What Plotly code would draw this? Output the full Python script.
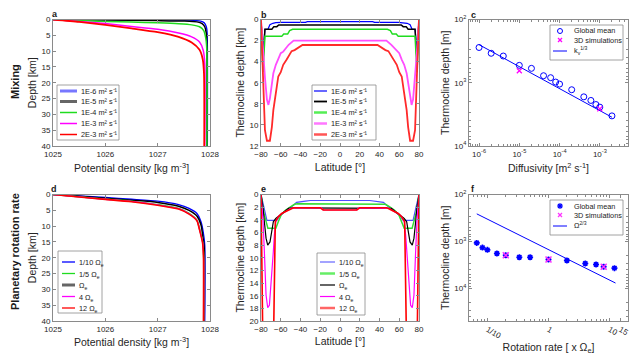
import math
import plotly.graph_objects as go

W, H = 644, 357
OFF = 8  # the page body adds an 8 px margin; positions below are in window pixels
FONT = "Liberation Sans, Arial, sans-serif"
FRAME = "#8a8a8a"

# ---------------- data ----------------
# (a) potential density profiles, mixing runs
a_rho_1e6 = [1025, 1026, 1027, 1027.6, 1027.82, 1027.89, 1027.93, 1027.945, 1027.95]
a_dep_1e6 = [0, 0.05, 0.12, 0.2, 0.5, 1.05, 2.3, 4.0, 40]
a_rho_1e5 = [1025, 1026, 1027, 1027.5, 1027.75, 1027.85, 1027.9, 1027.93, 1027.94, 1027.94]
a_dep_1e5 = [0, 0.15, 0.35, 0.5, 0.75, 1.3, 2.3, 4.4, 8, 40]
a_rho_1e4 = [1025, 1025.5, 1026, 1026.5, 1027, 1027.4, 1027.65, 1027.8, 1027.88, 1027.92, 1027.94, 1027.94]
a_dep_1e4 = [0, 0.35, 0.6, 0.8, 1.05, 1.35, 1.7, 2.3, 3.5, 6, 10, 40]
a_rho_1e3 = [1025, 1025.5, 1026, 1026.5, 1027, 1027.4, 1027.65, 1027.8, 1027.87, 1027.9, 1027.9]
a_dep_1e3 = [0, 0.6, 1.3, 2.2, 3.1, 4.3, 5.5, 7.1, 9.7, 14, 40]
a_rho_2e3 = [1025, 1025.5, 1026, 1026.5, 1027, 1027.4, 1027.65, 1027.8, 1027.86, 1027.885, 1027.89]
a_dep_2e3 = [0, 0.75, 1.7, 2.8, 4.0, 5.5, 7.3, 9.6, 12.5, 17, 40]

# (b) thermocline depth vs latitude, mixing runs
b_lat_1e6 = [-80, -78, -76, -73, -71, -68, -65, -59, -35, -33, 33, 35, 59, 65, 68, 71, 73, 76, 78, 80]
b_dep_1e6 = [0, 3.0, 0.93, 0.93, 0.5, 0.36, 0.3, 0.27, 0.27, 0.2, 0.2, 0.27, 0.27, 0.3, 0.36, 0.5, 0.93, 0.93, 3.0, 0]
b_lat_1e5 = [-80, -78, -76, -69, -67, -64, -62, 62, 64, 67, 69, 76, 78, 80]
b_dep_1e5 = [0, 4.0, 0.93, 0.93, 0.68, 0.68, 0.52, 0.52, 0.68, 0.68, 0.93, 0.93, 4.0, 0]
b_lat_1e4 = [-80, -78, -76, -59, -57, -53, -51, -48, 48, 51, 53, 57, 59, 76, 78, 80]
b_dep_1e4 = [0, 5.0, 1.6, 1.6, 1.38, 1.38, 1.06, 0.93, 0.93, 1.06, 1.38, 1.38, 1.6, 1.6, 5.0, 0]
b_lat_1e3 = [-80, -78, -76, -74, -72.5, -71, -69, -67.5, -65, -62.5, -60, -57.5, -54, -52, -47,
             47, 52, 54, 57.5, 60, 62.5, 65, 67.5, 69, 71, 72.5, 74, 76, 78, 80]
b_dep_1e3 = [0, 3.0, 5.5, 7.6, 8.1, 7.5, 6.1, 5.1, 4.3, 3.8, 3.2, 3.05, 2.6, 2.4, 2.0,
             2.0, 2.4, 2.6, 3.05, 3.2, 3.8, 4.3, 5.1, 6.1, 7.5, 8.1, 7.6, 5.5, 3.0, 0]
b_lat_2e3 = [-80, -78, -76, -74, -71, -69, -67.5, -65, -62.5, -60, -57.5, -54, -52, -49, -46, -42, -38,
             38, 42, 46, 49, 52, 54, 57.5, 60, 62.5, 65, 67.5, 69, 71, 74, 76, 78, 80]
b_dep_2e3 = [0, 5.0, 10.5, 11.5, 11.5, 10.2, 8.6, 7.0, 5.4, 5.0, 4.3, 3.8, 3.5, 3.0, 2.9, 2.7, 2.42,
             2.42, 2.7, 2.9, 3.0, 3.5, 3.8, 4.3, 5.0, 5.4, 7.0, 8.6, 10.2, 11.5, 11.5, 10.5, 5.0, 0]

# (c) global-mean thermocline depth vs diffusivity
c_kv = [1e-6, 2e-6, 4e-6, 1e-5, 2e-5, 4e-5, 6e-5, 8e-5, 1e-4, 2e-4, 4e-4, 6e-4, 8e-4, 1e-3, 2e-3]
c_depth = [277, 342, 378, 531, 592, 774, 832, 975, 1050, 1290, 1670, 1905, 2210, 2430, 3340]
c_sim_kv = [1e-5, 1e-3]
c_sim_depth = [646, 2590]
c_fit_kv = [1e-6, 2e-3]
c_fit_depth = [250, 3510]

# (d) potential density profiles, rotation runs
d_rho_01 = [1025, 1025.5, 1026, 1026.5, 1027, 1027.4, 1027.6, 1027.75, 1027.83, 1027.87, 1027.9, 1027.9]
d_dep_01 = [0, 0.45, 0.95, 1.5, 2.1, 3.2, 4.4, 6.0, 8.7, 11.8, 16, 40]
d_rho_02 = [1025, 1025.5, 1026, 1026.5, 1027, 1027.4, 1027.6, 1027.75, 1027.83, 1027.86, 1027.89, 1027.89]
d_dep_02 = [0, 0.55, 1.15, 1.8, 2.5, 3.7, 5.0, 6.8, 9.7, 12.9, 17, 40]
d_rho_1 = [1025, 1025.5, 1026, 1026.5, 1027, 1027.4, 1027.6, 1027.75, 1027.8, 1027.86, 1027.88, 1027.88]
d_dep_1 = [0, 0.7, 1.45, 2.1, 3.2, 4.4, 6.0, 8.1, 10.8, 15, 20, 40]
d_rho_4 = [1025, 1025.5, 1026, 1026.5, 1027, 1027.4, 1027.6, 1027.75, 1027.8, 1027.86, 1027.88, 1027.88]
d_dep_4 = [0, 0.75, 1.5, 2.2, 3.3, 4.5, 6.1, 8.2, 11.0, 15.2, 20, 40]
d_rho_12 = [1025, 1025.5, 1026, 1026.5, 1027, 1027.4, 1027.6, 1027.75, 1027.8, 1027.86, 1027.875, 1027.875]
d_dep_12 = [0, 0.8, 1.55, 2.3, 3.4, 4.6, 6.2, 8.3, 11.2, 15.5, 20, 40]

# (e) thermocline depth vs latitude, rotation runs
e_lat_01 = [-80, -77, -74, -64, -61, -56, -52, -49, -46, -44, -35, -30,
            30, 35, 44, 46, 49, 52, 56, 61, 64, 74, 77, 80]
e_dep_01 = [0, 2.0, 4.1, 4.1, 3.4, 2.7, 2.3, 1.9, 1.55, 1.25, 1.05, 0.95,
            0.95, 1.05, 1.25, 1.55, 1.9, 2.3, 2.7, 3.4, 4.1, 4.1, 2.0, 0]
e_lat_02 = [-80, -77, -73, -65, -62.5, -59.5, -55, -50, -46, -43, 43, 46, 50, 55, 59.5, 62.5, 65, 73, 77, 80]
e_dep_02 = [0, 3.0, 5.35, 5.35, 4.3, 3.2, 2.45, 1.9, 1.55, 1.45, 1.45, 1.55, 1.9, 2.45, 3.2, 4.3, 5.35, 5.35, 3.0, 0]
e_lat_1 = [-80, -78, -76.6, -74.9, -73.2, -70.9, -69.2, -67.5, -65, -62.4, -59, -54, -52, -49,
           49, 52, 54, 59, 62.4, 65, 67.5, 69.2, 70.9, 73.2, 74.9, 76.6, 78, 80]
e_dep_1 = [0, 2.0, 4.3, 6.9, 8.0, 7.5, 5.9, 4.3, 3.8, 3.5, 3.0, 2.45, 2.2, 2.1,
           2.1, 2.2, 2.45, 3.0, 3.5, 3.8, 4.3, 5.9, 7.5, 8.0, 6.9, 4.3, 2.0, 0]
e_lat_4 = [-80, -78, -76.6, -74.9, -73.2, -71.5, -70.5, -69.2, -67.5, -66.5, -65, -62.4, -59, -54, -50, -47, -19, -17,
           17, 19, 47, 50, 54, 59, 62.4, 65, 66.5, 67.5, 69.2, 70.5, 71.5, 73.2, 74.9, 76.6, 78, 80]
e_dep_4 = [0, 4, 9, 15.9, 17.9, 17.5, 15.4, 11.7, 9.0, 6.4, 4.3, 3.5, 3.0, 2.6, 2.2, 2.1, 2.1, 2.45,
           2.45, 2.1, 2.1, 2.2, 2.6, 3.0, 3.5, 4.3, 6.4, 9.0, 11.7, 15.4, 17.5, 17.9, 15.9, 9, 4, 0]
e_lat_12 = [-80, -78, -67.5, -65.5, -62.4, -59, -54, -49, -47, -20, -17,
            17, 20, 47, 49, 54, 59, 62.4, 65.5, 67.5, 78, 80]
e_dep_12 = [0, 25, 25, 4.3, 3.5, 3.0, 2.6, 2.2, 2.1, 2.1, 2.45,
            2.45, 2.1, 2.1, 2.2, 2.6, 3.0, 3.5, 4.3, 25, 25, 0]

# (f) global-mean thermocline depth vs rotation rate
f_rot = [0.067, 0.083, 0.1, 0.143, 0.2, 0.333, 0.5, 1, 2, 4, 6, 8, 12]
f_depth = [1080, 1360, 1520, 1820, 1980, 2180, 2180, 2440, 2570, 2970, 3120, 3480, 3730]
f_sim_rot = [0.2, 1, 8]
f_sim_depth = [1980, 2440, 3480]
f_fit_rot = [0.067, 12.5]
f_fit_depth = [259, 7760]

mix_names = ["1E-6", "1E-5", "1E-4", "1E-3", "2E-3"]
rot_names = ["1/10 Ω<sub>e</sub>", "1/5 Ω<sub>e</sub>", "Ω<sub>e</sub>", "4 Ω<sub>e</sub>", "12 Ω<sub>e</sub>"]
colors = ["#0000ff", "#000000", "#1fdc1f", "#ff00ff", "#ff0000"]


def X(px):
    return (px - OFF) / W


def Y(py):
    return 1 - (py - OFF) / H


def xdom(x0, x1):
    return [X(x0), X(x1)]


def ydom(y0, y1):
    return [Y(y1), Y(y0)]


def axis(**kw):
    base = dict(
        showline=True, linecolor=FRAME, linewidth=1, mirror="ticks", automargin=False,
        ticks="inside", ticklen=3, tickcolor=FRAME, showgrid=False, zeroline=False,
        tickfont=dict(size=8, color="#262626"),
        title_font=dict(size=10.5, color="#262626"),
    )
    base.update(kw)
    return base


fig = go.Figure()

# (a)
for k, (rho, dep, w) in enumerate([(a_rho_1e6, a_dep_1e6, 1.3), (a_rho_1e5, a_dep_1e5, 1.5), (a_rho_1e4, a_dep_1e4, 1.5),
                                   (a_rho_1e3, a_dep_1e3, 1.5), (a_rho_2e3, a_dep_2e3, 1.8)]):
    fig.add_trace(go.Scatter(x=rho, y=dep, mode="lines", line=dict(color=colors[k], width=w, shape="spline", smoothing=0.6),
                             xaxis="x", yaxis="y", showlegend=False))

# (b)
for lat, dep, w, c in [(b_lat_1e6, b_dep_1e6, 1.2, "#0000ff"), (b_lat_1e5, b_dep_1e5, 1.5, "#000000"),
                       (b_lat_1e4, b_dep_1e4, 1.5, "#1fdc1f"), (b_lat_1e3, b_dep_1e3, 1.8, "#ff4dff"),
                       (b_lat_2e3, b_dep_2e3, 1.8, "#ff2a2a")]:
    fig.add_trace(go.Scatter(x=lat, y=dep, mode="lines", line=dict(color=c, width=w),
                             xaxis="x2", yaxis="y2", showlegend=False))

# (c)
fig.add_trace(go.Scatter(x=c_fit_kv, y=c_fit_depth, mode="lines", line=dict(color="#0000ff", width=1),
                         xaxis="x3", yaxis="y3", showlegend=False))
fig.add_trace(go.Scatter(x=c_kv, y=c_depth, mode="markers",
                         marker=dict(symbol="circle-open", size=6, color="#0000ff", line=dict(width=1)),
                         xaxis="x3", yaxis="y3", showlegend=False))
fig.add_trace(go.Scatter(x=c_sim_kv, y=c_sim_depth, mode="markers",
                         marker=dict(symbol="x-thin-open", size=5, color="#ff00ff", line=dict(width=1.3)),
                         xaxis="x3", yaxis="y3", showlegend=False))

# (d)
for k, (rho, dep, w) in enumerate([(d_rho_01, d_dep_01, 1.3), (d_rho_02, d_dep_02, 1.5), (d_rho_1, d_dep_1, 1.5),
                                   (d_rho_4, d_dep_4, 1.3), (d_rho_12, d_dep_12, 1.6)]):
    fig.add_trace(go.Scatter(x=rho, y=dep, mode="lines", line=dict(color=colors[k], width=w, shape="spline", smoothing=0.6),
                             xaxis="x4", yaxis="y4", showlegend=False))

# (e)
for lat, dep, w, c in [(e_lat_01, e_dep_01, 1.2, "#4d4dff"), (e_lat_02, e_dep_02, 1.5, "#33dd33"),
                       (e_lat_1, e_dep_1, 1.2, "#000000"), (e_lat_4, e_dep_4, 1.2, "#ff00ff"),
                       (e_lat_12, e_dep_12, 1.6, "#ff0000")]:
    fig.add_trace(go.Scatter(x=lat, y=dep, mode="lines", line=dict(color=c, width=w),
                             xaxis="x5", yaxis="y5", showlegend=False))

# (f)
fig.add_trace(go.Scatter(x=f_fit_rot, y=f_fit_depth, mode="lines", line=dict(color="#0000ff", width=1),
                         xaxis="x6", yaxis="y6", showlegend=False))
fig.add_trace(go.Scatter(x=f_rot, y=f_depth, mode="markers",
                         marker=dict(symbol="asterisk-open", size=5, color="#0000ff", line=dict(width=1.6, color="#0000ff")),
                         xaxis="x6", yaxis="y6", showlegend=False))
fig.add_trace(go.Scatter(x=f_sim_rot, y=f_sim_depth, mode="markers",
                         marker=dict(symbol="x-thin-open", size=6, color="#ff33ff", line=dict(width=1.5, color="#ff33ff")),
                         xaxis="x6", yaxis="y6", showlegend=False))

top, bot = ydom(19.5, 146), ydom(194.5, 321)
colA, colB, colC = xdom(53, 210), xdom(261, 419), xdom(469, 628)


def logtick(vals):
    return ["10<sup>%d</sup>" % round(math.log10(v)) for v in vals]


minor_log = dict(ticks="inside", ticklen=2, tickcolor=FRAME, dtick="D1", showgrid=False)

fig.update_layout(
    xaxis=axis(domain=colA, anchor="y", range=[1025, 1028], tickvals=[1025, 1026, 1027, 1028],
               title=dict(text="Potential density [kg m<sup>-3</sup>]", standoff=7)),
    yaxis=axis(domain=top, anchor="x", range=[40, 0], tickvals=list(range(0, 41, 5)),
               title=dict(text="Depth [km]", standoff=2)),
    xaxis2=axis(domain=colB, anchor="y2", range=[-80, 80], tickvals=list(range(-80, 81, 20)),
                title=dict(text="Latitude [°]", standoff=6)),
    yaxis2=axis(domain=top, anchor="x2", range=[12, 0], tickvals=list(range(0, 13, 2)),
                title=dict(text="Thermocline depth [km]", standoff=2)),
    xaxis3=axis(domain=colC, anchor="y3", type="log", range=[-6.25, -2.3],
                tickvals=[1e-6, 1e-5, 1e-4, 1e-3], ticktext=logtick([1e-6, 1e-5, 1e-4, 1e-3]), minor=minor_log,
                title=dict(text="Diffusivity [m<sup>2</sup> s<sup>-1</sup>]", standoff=7)),
    yaxis3=axis(domain=top, anchor="x3", type="log", range=[4, 2],
                tickvals=[1e2, 1e3, 1e4], ticktext=logtick([1e2, 1e3, 1e4]), minor=minor_log,
                title=dict(text="Thermocline depth [m]", standoff=2)),
    xaxis4=axis(domain=colA, anchor="y4", range=[1025, 1028], tickvals=[1025, 1026, 1027, 1028],
                title=dict(text="Potential density [kg m<sup>-3</sup>]", standoff=6)),
    yaxis4=axis(domain=bot, anchor="x4", range=[40, 0], tickvals=list(range(0, 41, 5)),
                title=dict(text="Depth [km]", standoff=2)),
    xaxis5=axis(domain=colB, anchor="y5", range=[-80, 80], tickvals=list(range(-80, 81, 20)),
                title=dict(text="Latitude [°]", standoff=5)),
    yaxis5=axis(domain=bot, anchor="x5", range=[20, 0], tickvals=list(range(0, 21, 2)),
                title=dict(text="Thermocline depth [km]", standoff=2)),
    xaxis6=axis(domain=colC, anchor="y6", type="log", range=[-1.301, 1.301],
                tickvals=[0.1, 1, 10, 15], ticktext=["1/10", "1", "10", "15"], minor=minor_log,
                title=dict(text="Rotation rate [ x Ω<sub>e</sub>]", standoff=1)),
    yaxis6=axis(domain=bot, anchor="x6", type="log", range=[4.7, 2],
                tickvals=[1e2, 1e3, 1e4], ticktext=logtick([1e2, 1e3, 1e4]), minor=minor_log,
                title=dict(text="Thermocline depth [m]", standoff=2)),
)

shapes, annos = [], []


def text(x, y, s, size=7.3, bold=False, xanchor="center", **kw):
    annos.append(dict(x=X(x), y=Y(y), xref="paper", yref="paper", showarrow=False,
                      xanchor=xanchor, yanchor="middle",
                      text="<b>%s</b>" % s if bold else s,
                      font=dict(size=size, color="#1a1a1a", family=FONT), **kw))


def box(x0, y0, x1, y1):
    shapes.append(dict(type="rect", xref="paper", yref="paper", x0=X(x0), x1=X(x1), y0=Y(y1), y1=Y(y0),
                       fillcolor="white", line=dict(color=FRAME, width=0.8), layer="above"))


def seg(x0, x1, y, color, width):
    shapes.append(dict(type="line", xref="paper", yref="paper", x0=X(x0), x1=X(x1), y0=Y(y), y1=Y(y),
                       line=dict(color=color, width=width)))


def glyph(cx, cy, kind, color):
    base = dict(xref="paper", yref="paper", xsizemode="pixel", ysizemode="pixel", xanchor=X(cx), yanchor=Y(cy))
    if kind == "o":
        shapes.append(dict(type="circle", x0=-2.5, x1=2.5, y0=-2.5, y1=2.5, line=dict(color=color, width=1), **base))
        return
    arms = [(-2, -2, 2, 2), (-2, 2, 2, -2)]
    if kind == "*":
        arms += [(-2.7, 0, 2.7, 0), (0, -2.7, 0, 2.7)]
    for a, b, c, d in arms:
        shapes.append(dict(type="line", x0=a, y0=b, x1=c, y1=d,
                           line=dict(color=color, width=1.5 if kind == "*" else 1.2), **base))


# legends of the line panels
leg_rows = [91, 101.5, 112.5, 123.5, 134.5]
box(57, 85, 119, 140)
for y, name, c, w in zip(leg_rows, mix_names, ["#7777ff", "#666666", "#1fdc1f", "#ff00ff", "#ff0000"], [3, 3, 1.5, 1.5, 1.5]):
    seg(60, 77, y, c, w)
    text(79, y, name + " m² s⁻¹", xanchor="left")
box(312, 85, 376, 140)
for y, name, c, w in zip(leg_rows, mix_names, ["#0000ff", "#000000", "#55ee55", "#ff77ff", "#ff5555"], [1.2, 1.8, 2.5, 2.5, 2.5]):
    seg(314, 327, y, c, w)
    text(329, y, name + " m² s⁻¹", xanchor="left")
rot_rows = [262, 273.5, 285, 296.5, 308]
box(58, 251, 102, 313)
for y, name, c, w in zip(rot_rows, rot_names, ["#0000ff", "#1fdc1f", "#666666", "#ff00ff", "#ff0000"], [1.3, 1.3, 3, 1.3, 1.3]):
    seg(62, 75, y, c, w)
    text(77, y + 1, name, xanchor="left")
box(317, 253, 365, 315)
for y, name, c, w in zip(rot_rows, rot_names, ["#6666ff", "#66ee66", "#000000", "#ff00ff", "#ff6666"], [1.2, 2.5, 1.2, 1.2, 2.5]):
    seg(320, 335, y, c, w)
    text(337, y + 1, name, xanchor="left")

# legends of the scatter panels
box(550, 25, 623, 60)
glyph(560, 31, "o", "#0000ff")
text(572, 31, "Global mean", xanchor="left")
glyph(560, 40, "x", "#ff00ff")
text(572, 40, "3D simulations", xanchor="left")
seg(553, 567, 51, "#0000ff", 1)
text(572, 50, "k<sub>v</sub><sup>1/3</sup>", xanchor="left")
box(550, 200, 623, 235)
glyph(560, 206, "*", "#0000ff")
text(572, 206, "Global mean", xanchor="left")
glyph(560, 215, "x", "#ff33ff")
text(572, 215, "3D simulations", xanchor="left")
seg(553, 567, 226, "#0000ff", 1)
text(572, 225, "Ω<sup>2/3</sup>", xanchor="left")

# panel letters and row titles
for x, y, s in [(54.5, 14, "a"), (263.5, 14.5, "b"), (473.5, 14.5, "c"),
                (54, 189, "d"), (263, 189, "e"), (472.5, 189, "f")]:
    text(x, y, s, size=9, bold=True)
text(15, 82, "Mixing", size=11, bold=True, textangle=-90)
text(15, 252, "Planetary rotation rate", size=11, bold=True, textangle=-90)

fig.update_layout(
    width=W, height=H,
    margin=dict(l=0, r=0, t=0, b=0, autoexpand=False),
    paper_bgcolor="white", plot_bgcolor="rgba(0,0,0,0)",
    font=dict(family=FONT, color="#262626"),
    showlegend=False,
    shapes=shapes, annotations=annos,
)

fig.write_html("out.html")
